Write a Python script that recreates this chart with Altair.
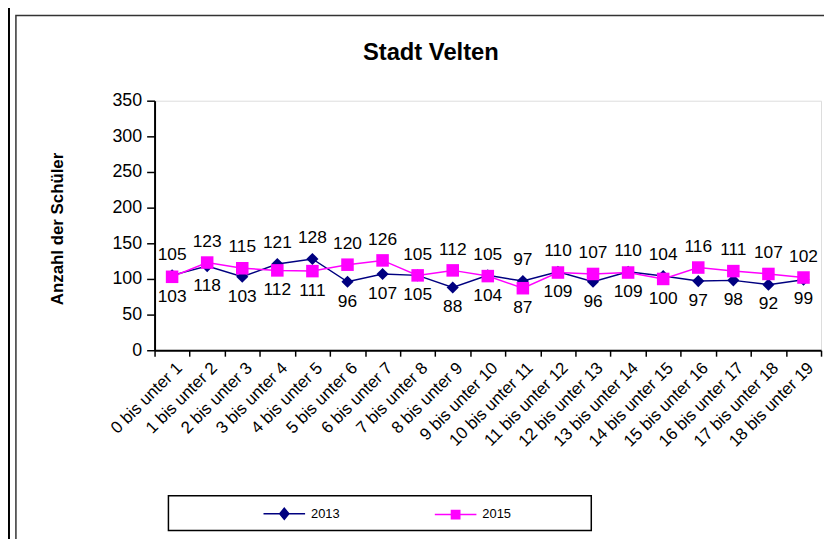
import altair as alt
import pandas as pd

categories = ["0 bis unter 1", "1 bis unter 2", "2 bis unter 3", "3 bis unter 4",
              "4 bis unter 5", "5 bis unter 6", "6 bis unter 7", "7 bis unter 8",
              "8 bis unter 9", "9 bis unter 10", "10 bis unter 11", "11 bis unter 12",
              "12 bis unter 13", "13 bis unter 14", "14 bis unter 15", "15 bis unter 16",
              "16 bis unter 17", "17 bis unter 18", "18 bis unter 19"]
values_2013 = [105, 118, 103, 121, 128, 96, 107, 105, 88, 105, 97, 110, 96, 110, 104, 97, 98, 92, 99]
values_2015 = [103, 123, 115, 112, 111, 120, 126, 105, 112, 104, 87, 109, 107, 109, 100, 116, 111, 107, 102]
series = ["2013", "2015"]
colors = ["#000080", "#FF00FF"]
shapes = ["diamond", "square"]
legend_paths = [
    "M-1,0L1,0M0,-0.27L0.22,0L0,0.27L-0.22,0Z",
    "M-1,0L1,0M-0.2,-0.2L0.2,-0.2L0.2,0.2L-0.2,0.2Z",
]
title_text = "Stadt Velten"
y_title = "Anzahl der Schüler"

rows = []
for i, cat in enumerate(categories):
    a, b = values_2013[i], values_2015[i]
    rows.append({"Gruppe": cat, "Jahr": "2013", "Anzahl": a, "pos": "above" if a >= b else "below"})
    rows.append({"Gruppe": cat, "Jahr": "2015", "Anzahl": b, "pos": "below" if a >= b else "above"})
df = pd.DataFrame(rows)
one = pd.DataFrame({"t": [title_text]})

FONT = "Liberation Sans"

x_enc = alt.X("Gruppe:N", sort=categories, bandPosition=0.5,
              scale=alt.Scale(type="band", paddingInner=0, paddingOuter=0),
              axis=alt.Axis(title=None, tickBand="extent", labelAngle=-45, labelAlign="right",
                            labelBaseline="middle", labelFontSize=17, labelFont=FONT,
                            labelColor="black", labelPadding=9, labelOffset=7,
                            tickSize=6, tickColor="black", tickWidth=1.5,
                            domainColor="black", domainWidth=2, labelOverlap=False))
y_enc = alt.Y("Anzahl:Q", scale=alt.Scale(domain=[0, 350], nice=False, zero=True),
              axis=alt.Axis(values=list(range(0, 351, 50)), title=y_title, titleFont=FONT,
                            titleFontSize=17, titleFontWeight="bold", titleColor="black",
                            titleAngle=-90, titleX=-98, titleY=129, titleAlign="center",
                            titleBaseline="middle", labelFontSize=18, labelFont=FONT,
                            labelColor="black", labelPadding=5, tickSize=8, tickColor="black",
                            tickWidth=1.5, domainColor="black", domainWidth=2, grid=False))

base = alt.Chart(df)
layers = []

# decoration: outer chart frame, page border, legend box
layers.append(alt.Chart(one).mark_rect(fill=None, stroke="#333333", strokeWidth=1.5).encode(
    x=alt.value(-140), x2=alt.value(700), y=alt.value(-86), y2=alt.value(470)))
layers.append(alt.Chart(one).mark_rule(color="black", strokeWidth=2).encode(
    x=alt.value(-147), y=alt.value(-95), y2=alt.value(470)))
layers.append(alt.Chart(one).mark_rect(fill="white", stroke="black", strokeWidth=1.5).encode(
    x=alt.value(14), x2=alt.value(441), y=alt.value(399), y2=alt.value(434)))

for s, c, sh in zip(series, colors, shapes):
    sub = base.transform_filter(alt.datum.Jahr == s)
    layers.append(sub.mark_line(color=c, strokeWidth=1.5).encode(x=x_enc, y=y_enc))
    layers.append(sub.mark_point(shape=sh, filled=True, color=c, opacity=1,
                                 size=150 if sh == "diamond" else 160).encode(x=x_enc, y=y_enc))

leg = alt.Legend(title=None, orient="none", legendX=109, legendY=395, direction="horizontal",
                 padding=0, symbolSize=1764, symbolStrokeWidth=1.5, symbolOpacity=1,
                 labelFont=FONT, labelFontSize=13, labelColor="black", labelOffset=5,
                 columnPadding=93)
layers.append(base.mark_point(filled=True, opacity=0).encode(
    x=x_enc, y=y_enc,
    fill=alt.Fill("Jahr:N", scale=alt.Scale(domain=series, range=colors), legend=leg),
    stroke=alt.Stroke("Jahr:N", scale=alt.Scale(domain=series, range=colors), legend=leg),
    shape=alt.Shape("Jahr:N", scale=alt.Scale(domain=series, range=legend_paths), legend=leg),
))

layers.append(base.transform_filter(alt.datum.pos == "above").mark_text(
    font=FONT, fontSize=17.5, color="black", dy=-21).encode(x=x_enc, y=y_enc, text="Anzahl:Q"))
layers.append(base.transform_filter(alt.datum.pos == "below").mark_text(
    font=FONT, fontSize=17.5, color="black", dy=20).encode(x=x_enc, y=y_enc, text="Anzahl:Q"))

layers.append(alt.Chart(one).mark_text(font=FONT, fontSize=24, fontWeight="bold", color="black",
                                       baseline="middle", align="center").encode(
    x=alt.value(279), y=alt.value(-48), text="t:N"))

chart = alt.layer(*layers).properties(
    width=673, height=252,
    autosize=alt.AutoSizeParams(type="none"),
    padding={"left": 148, "top": 91, "right": 3, "bottom": 188},
).configure_view(stroke="#808080", strokeWidth=2).configure(background="white")

chart.save("out.html", embed_options={"renderer": "svg", "actions": False})
